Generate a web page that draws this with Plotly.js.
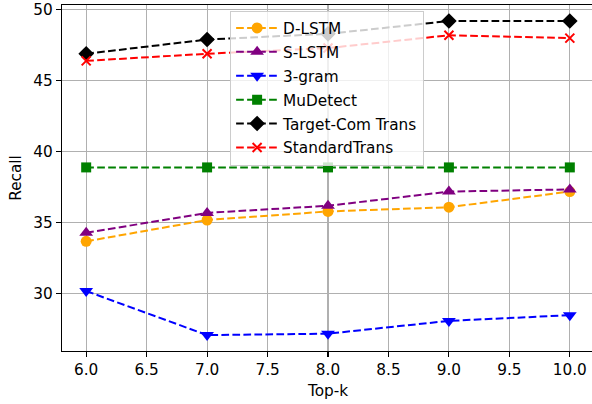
<!DOCTYPE html>
<html>
<head>
<meta charset="utf-8">
<script src="https://cdn.plot.ly/plotly-3.0.1.min.js"></script>
<style>html,body{margin:0;padding:0;background:#fff;overflow:hidden;}#chart{width:595px;height:404px;}</style>
</head>
<body>
<div id="chart"></div>
<script>
const topK = [6, 7, 8, 9, 10];
const dLSTM = [33.7, 35.2, 35.8, 36.1, 37.2];
const sLSTM = [34.3, 35.7, 36.2, 37.2, 37.35];
const gram3 = [30.2, 27.1, 27.2, 28.1, 28.5];
const muDetect = [38.9, 38.9, 38.9, 38.9, 38.9];
const targetCom = [46.9, 47.9, 48.3, 49.2, 49.2];
const standardTrans = [46.4, 46.9, 47.3, 48.2, 48.0];
const xTicks = [6.0, 6.5, 7.0, 7.5, 8.0, 8.5, 9.0, 9.5, 10.0];
const yTicks = [30, 35, 40, 45, 50];

const dash = '7.7px,3.3px';
function tr(name, y, color, symbol, size, extra) {
  const m = {symbol: symbol, size: size, color: color, line: {width: 0}};
  if (extra) Object.assign(m, extra);
  return {x: topK, y: y, name: name, legendgroup: name, type: 'scatter', mode: 'lines+markers',
    line: {color: color, width: 2, dash: dash}, marker: m};
}
const data = [
  tr('D-LSTM', dLSTM, '#FFA500', 'circle', 11),
  tr('S-LSTM', sLSTM, '#800080', 'triangle-up', 12),
  tr('3-gram', gram3, '#0000FF', 'triangle-down', 12),
  tr('MuDetect', muDetect, '#008000', 'square', 10),
  tr('Target-Com Trans', targetCom, '#000000', 'diamond', 12),
  tr('StandardTrans', standardTrans, '#FF0000', 'x-thin', 9, {line: {color: '#FF0000', width: 2}})
];
const font = {family: 'DejaVu Sans', size: 15.3, color: '#000'};
const layout = {
  width: 595, height: 404,
  margin: {l: 62, r: 1, t: 5, b: 53},
  paper_bgcolor: '#fff', plot_bgcolor: '#fff',
  font: font,
  showlegend: true,
  legend: {x: 0.316, y: 0.984, xanchor: 'left', yanchor: 'top', bgcolor: 'rgba(255,255,255,0.8)',
    bordercolor: '#cccccc', borderwidth: 1, font: font,
    traceorder: 'grouped', tracegroupgap: 1, itemwidth: 42},
  xaxis: {range: [5.8, 10.2], tickvals: xTicks, ticktext: xTicks.map(v => v.toFixed(1)),
    showgrid: true, gridcolor: '#b0b0b0', gridwidth: 1.1, zeroline: false,
    showline: true, linecolor: '#000', linewidth: 1.1, mirror: true,
    ticks: 'outside', ticklen: 5, tickcolor: '#000', tickwidth: 1.1,
    title: {text: 'Top-k', font: font, standoff: 6}},
  yaxis: {range: [25.98, 50.33], tickvals: yTicks, ticktext: yTicks.map(String),
    showgrid: true, gridcolor: '#b0b0b0', gridwidth: 1.1, zeroline: false,
    showline: true, linecolor: '#000', linewidth: 1.1, mirror: true,
    ticks: 'outside', ticklen: 5, tickcolor: '#000', tickwidth: 1.1,
    title: {text: 'Recall', font: font, standoff: 8}}
};
Plotly.newPlot('chart', data, layout, {staticPlot: true, displayModeBar: false});
</script>
</body>
</html>
